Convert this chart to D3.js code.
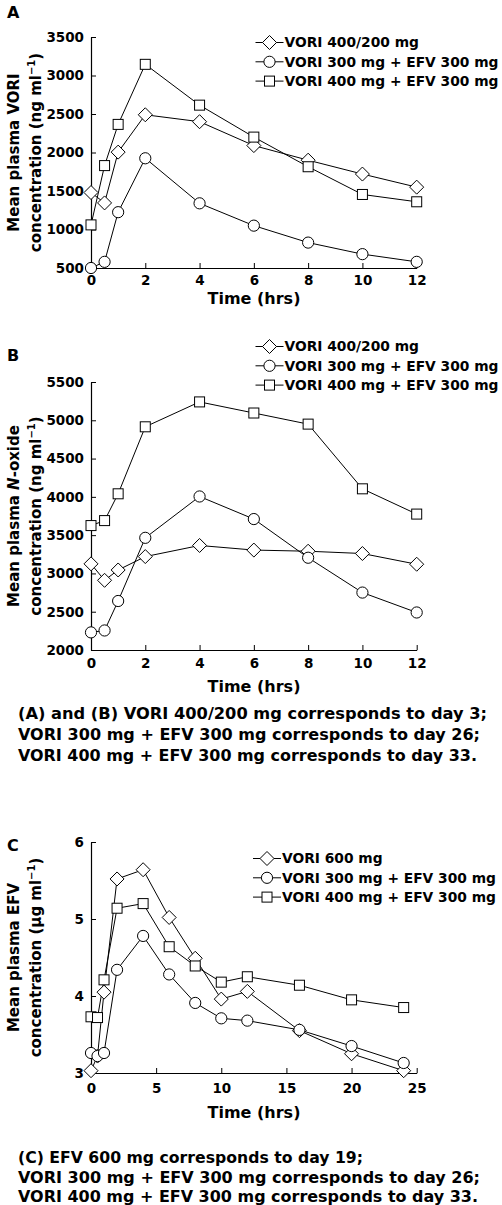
<!DOCTYPE html>
<html>
<head>
<meta charset="utf-8">
<script src="https://cdn.jsdelivr.net/npm/d3@7"></script>
<style>
  html, body { margin: 0; padding: 0; background: #fff; }
  svg { display: block; }
  text { font-family: "DejaVu Sans", sans-serif; font-weight: 700; fill: #000; }
</style>
</head>
<body>
<svg id="chart" width="502" height="1205"></svg>
<script>
// ---- DATA ----
const timesAB = [0, 0.5, 1, 2, 4, 6, 8, 10, 12];
const timesC = [0, 0.5, 1, 2, 4, 6, 8, 10, 12, 16, 20, 24];

const seriesLabelsAB = ["VORI 400/200 mg", "VORI 300 mg + EFV 300 mg", "VORI 400 mg + EFV 300 mg"];
const seriesLabelsC = ["VORI 600 mg", "VORI 300 mg + EFV 300 mg", "VORI 400 mg + EFV 300 mg"];

const voriA_400_200 = [1480, 1345, 2005, 2490, 2400, 2090, 1900, 1720, 1550];
const voriA_300_efv = [500, 580, 1225, 1925, 1340, 1050, 830, 680, 580];
const voriA_400_efv = [1060, 1830, 2365, 3145, 2615, 2200, 1815, 1455, 1360];

const noxB_400_200 = [3125, 2910, 3045, 3220, 3365, 3305, 3290, 3260, 3120];
const noxB_300_efv = [2230, 2255, 2640, 3465, 4005, 3710, 3205, 2750, 2490];
const noxB_400_efv = [3625, 3690, 4040, 4915, 5240, 5095, 4950, 4105, 3775];

const efvC_600 = [3.03, 3.22, 4.05, 5.52, 5.64, 5.02, 4.49, 3.96, 4.06, 3.55, 3.25, 3.03];
const efvC_300_efv = [3.26, 3.22, 3.26, 4.34, 4.78, 4.28, 3.91, 3.71, 3.68, 3.56, 3.35, 3.13];
const efvC_400_efv = [3.73, 3.72, 4.21, 5.14, 5.20, 4.64, 4.39, 4.18, 4.25, 4.14, 3.95, 3.85];

const xTicksAB = [0, 2, 4, 6, 8, 10, 12];
const xTicksC = [0, 5, 10, 15, 20, 25];
const yTicksA = [500, 1000, 1500, 2000, 2500, 3000, 3500];
const yTicksB = [2000, 2500, 3000, 3500, 4000, 4500, 5000, 5500];
const yTicksC = [3, 4, 5, 6];

const captionAB = [
  "(A) and (B) VORI 400/200 mg corresponds to day 3;",
  "VORI 300 mg + EFV 300 mg corresponds to day 26;",
  "VORI 400 mg + EFV 300 mg corresponds to day 33."
];
const captionC = [
  "(C) EFV 600 mg corresponds to day 19;",
  "VORI 300 mg + EFV 300 mg corresponds to day 26;",
  "VORI 400 mg + EFV 300 mg corresponds to day 33."
];

// ---- DRAWING ----
const svg = d3.select("#chart");
svg.append("rect").attr("width", 502).attr("height", 1205).attr("fill", "#fff");

const shapes = ["diamond", "circle", "square"];

function drawMarker(sel, shape) {
  if (shape === "diamond") {
    sel.append("path").attr("d", "M0,-7L7,0L0,7L-7,0Z");
  } else if (shape === "circle") {
    sel.append("circle").attr("r", 5.6);
  } else {
    sel.append("rect").attr("x", -5).attr("y", -5).attr("width", 10).attr("height", 10);
  }
  sel.selectAll("path,circle,rect").attr("fill", "#fff").attr("stroke", "#000").attr("stroke-width", 1);
}

function fit(sel, w) {
  sel.attr("textLength", w).attr("lengthAdjust", "spacingAndGlyphs");
  return sel;
}

function panel(cfg) {
  const g = svg.append("g");
  const x = d3.scaleLinear().domain(cfg.xDomain).range([91, 416.7]);
  const y = d3.scaleLinear().domain(cfg.yDomain).range(cfg.yRange);

  const xAxis = g.append("g").attr("transform", `translate(0,${cfg.yRange[0]})`)
    .call(d3.axisBottom(x).tickValues(cfg.xTicks).tickFormat(d3.format("d"))
      .tickSizeInner(-5).tickSizeOuter(0).tickPadding(cfg.xPad));
  const yAxis = g.append("g").attr("transform", `translate(91,0)`)
    .call(d3.axisLeft(y).tickValues(cfg.yTicks).tickFormat(d3.format("d"))
      .tickSizeInner(-5).tickSizeOuter(0).tickPadding(7));
  [xAxis, yAxis].forEach(a => {
    a.selectAll("text").style("font-size", "13.5px").style("font-family", "'DejaVu Sans', sans-serif").style("font-weight", 700);
    a.select(".domain").attr("stroke", "#000").attr("stroke-width", 1.2);
    a.selectAll(".tick line").attr("stroke", "#000").attr("stroke-width", 1);
  });

  const line = d3.line().x(d => x(d[0])).y(d => y(d[1]));
  cfg.series.forEach(vals => {
    const pts = cfg.times.map((t, j) => [t, vals[j]]);
    g.append("path").attr("d", line(pts)).attr("fill", "none").attr("stroke", "#000").attr("stroke-width", 1);
  });
  cfg.series.forEach((vals, i) => {
    cfg.times.forEach((t, j) => {
      const m = g.append("g").attr("transform", `translate(${x(t)},${y(vals[j])})`);
      drawMarker(m, shapes[i]);
    });
  });

  // x title
  g.append("text").attr("x", 254).attr("y", cfg.xTitleY).attr("text-anchor", "middle")
    .style("font-size", "16px").text("Time (hrs)");

  // y title
  const midY = (cfg.yRange[0] + cfg.yRange[1]) / 2;
  const t1 = g.append("text").attr("transform", `translate(19,${midY}) rotate(-90)`)
    .attr("text-anchor", "middle").style("font-size", "15px");
  cfg.yTitle1(t1);
  const t2 = g.append("text").attr("transform", `translate(41,${midY}) rotate(-90)`)
    .attr("text-anchor", "middle").style("font-size", "15px");
  t2.append("tspan").text(cfg.yUnitPre);
  t2.append("tspan").attr("dy", -6).style("font-size", "10px").text("−1");
  t2.append("tspan").attr("dy", 6).text(")");

  // panel label
  g.append("text").attr("x", 7).attr("y", cfg.labelY).style("font-size", "16px").text(cfg.label);

  // legend
  cfg.legendLabels.forEach((lab, i) => {
    const cy = cfg.legendY + i * 19.3;
    const cx = cfg.legendX;
    g.append("line").attr("x1", cx - 14).attr("x2", cx + 14).attr("y1", cy).attr("y2", cy)
      .attr("stroke", "#000").attr("stroke-width", 1);
    const m = g.append("g").attr("transform", `translate(${cx},${cy})`);
    drawMarker(m, shapes[i]);
    g.append("text").attr("x", cx + 15).attr("y", cy).attr("dy", "0.36em")
      .style("font-size", "13.8px").text(lab);
  });
}

panel({
  label: "A", labelY: 18,
  times: timesAB, xDomain: [0, 12], xTicks: xTicksAB,
  yDomain: [500, 3500], yRange: [268, 37], yTicks: yTicksA,
  series: [voriA_400_200, voriA_300_efv, voriA_400_efv],
  xPad: 7.5, xTitleY: 303.5,
  yTitle1: t => t.text("Mean plasma VORI"),
  yUnitPre: "concentration (ng ml",
  legendLabels: seriesLabelsAB, legendX: 269.5, legendY: 42.5
});

panel({
  label: "B", labelY: 361,
  times: timesAB, xDomain: [0, 12], xTicks: xTicksAB,
  yDomain: [2000, 5500], yRange: [650, 382], yTicks: yTicksB,
  series: [noxB_400_200, noxB_300_efv, noxB_400_efv],
  xPad: 8, xTitleY: 692,
  yTitle1: t => { t.append("tspan").text("Mean plasma "); t.append("tspan").style("font-style", "italic").text("N"); t.append("tspan").text("-oxide"); },
  yUnitPre: "concentration (ng ml",
  legendLabels: seriesLabelsAB, legendX: 269.5, legendY: 346.5
});

panel({
  label: "C", labelY: 851,
  times: timesC, xDomain: [0, 25], xTicks: xTicksC,
  yDomain: [3, 6], yRange: [1073, 842], yTicks: yTicksC,
  series: [efvC_600, efvC_300_efv, efvC_400_efv],
  xPad: 10, xTitleY: 1118,
  yTitle1: t => t.text("Mean plasma EFV"),
  yUnitPre: "concentration (µg ml",
  legendLabels: seriesLabelsC, legendX: 267, legendY: 858.5
});

// captions
function caption(lines, widths, y0, step) {
  lines.forEach((s, i) => {
    const t = svg.append("text").attr("x", 18).attr("y", y0 + i * step)
      .style("font-size", "16px").text(s);
    fit(t, widths[i]);
  });
}
caption(captionAB, [469, 462, 459], 719, 21);
caption(captionC, [345, 462, 460], 1163, 19.5);
</script>
</body>
</html>
